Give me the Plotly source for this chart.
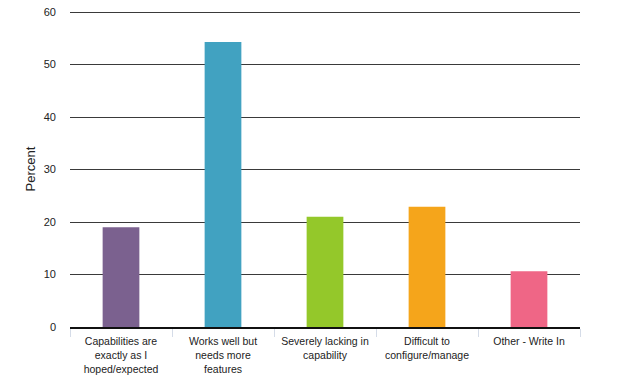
import plotly.graph_objects as go

categories = [
    "Capabilities are<br>exactly as I<br>hoped/expected",
    "Works well but<br>needs more<br>features",
    "Severely lacking in<br>capability",
    "Difficult to<br>configure/manage",
    "Other - Write In",
]
values = [19.0, 54.3, 21.0, 22.9, 10.6]
colors = ["#7B618F", "#41A2C1", "#94C82A", "#F5A51B", "#EF6686"]
y_ticks = [0, 10, 20, 30, 40, 50, 60]

fig = go.Figure(
    go.Bar(
        x=categories,
        y=values,
        marker=dict(color=colors, line=dict(width=0)),
        width=0.36,
    )
)

fig.update_layout(
    width=639,
    height=385,
    margin=dict(l=70, r=59, t=11, b=58),
    paper_bgcolor="white",
    plot_bgcolor="white",
    showlegend=False,
    font=dict(family="Liberation Sans, Arial, sans-serif", color="#222"),
)

fig.update_xaxes(
    type="category",
    automargin=False,
    showline=True,
    linecolor="#111",
    linewidth=1.5,
    ticks="outside",
    tickson="boundaries",
    ticklen=8,
    tickcolor="#D5DCE8",
    tickwidth=1,
    ticklabelstandoff=4,
    tickfont=dict(size=10.5, color="#222"),
    showgrid=False,
)

fig.update_yaxes(
    range=[0, 60.2],
    automargin=False,
    tickvals=y_ticks,
    showgrid=True,
    gridcolor="#3a3a3a",
    gridwidth=1,
    zeroline=False,
    showline=False,
    ticks="",
    ticklabelstandoff=13,
    tickfont=dict(size=11, color="#222"),
    title=dict(text="Percent", font=dict(size=13, color="#222"), standoff=5),
)

fig.write_html(
    "out.html",
    config={"displayModeBar": False},
    post_script="document.body.style.margin='0';document.body.style.padding='0';",
)
